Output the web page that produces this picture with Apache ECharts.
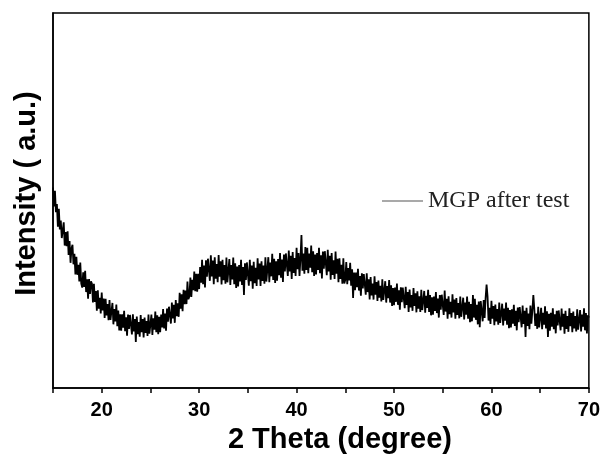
<!DOCTYPE html>
<html>
<head>
<meta charset="utf-8">
<script src="https://cdn.jsdelivr.net/npm/echarts@6/dist/echarts.min.js"></script>
<style>html,body{margin:0;padding:0;background:#fff}#c{width:603px;height:459px}</style>
</head>
<body>
<div id="c"></div>
<script>
// 2θ grid of the scan (degrees)
const angleStart = 15.0;
const angleStep = 0.1;
const seriesName = 'MGP after test';
const xTickValues = [20, 30, 40, 50, 60, 70];
// Intensity (arbitrary units, 0-100 of the frame height), one row per degree
const intensity = [
  53.5, 48.4, 52.6, 46.9, 49.1, 43.0, 47.8, 42.3, 44.7, 40.0,
  40.2, 44.2, 38.0, 41.6, 37.8, 41.8, 35.5, 39.2, 33.4, 37.2,
  38.2, 33.0, 35.8, 30.3, 35.0, 30.2, 32.9, 28.4, 33.5, 27.9,
  26.8, 30.9, 27.0, 31.3, 25.6, 29.0, 23.8, 29.1, 25.1, 28.5,
  27.8, 22.8, 27.8, 23.0, 25.9, 20.6, 26.1, 21.2, 24.1, 19.9,
  25.5, 20.7, 23.9, 18.7, 23.8, 19.4, 22.4, 18.1, 23.5, 18.2,
  18.2, 22.7, 17.0, 21.1, 17.8, 22.3, 16.5, 20.7, 15.4, 19.7,
  15.3, 19.7, 16.1, 20.6, 15.2, 18.9, 14.0, 19.6, 15.8, 19.5,
  19.1, 14.3, 19.7, 15.1, 18.4, 12.3, 19.1, 14.4, 17.6, 13.7,
  19.5, 14.9, 18.4, 13.5, 18.8, 14.7, 17.9, 13.9, 19.6, 14.5,
  14.8, 19.6, 14.2, 18.6, 15.6, 20.4, 14.9, 19.4, 14.4, 19.0,
  14.9, 19.6, 16.2, 21.1, 15.9, 19.9, 15.3, 21.2, 17.7, 21.7,
  21.6, 17.2, 22.8, 18.6, 22.2, 17.4, 23.5, 19.2, 22.6, 19.0,
  25.4, 21.2, 25.0, 20.5, 26.2, 22.4, 26.0, 22.4, 28.4, 23.7,
  24.5, 29.5, 24.3, 28.9, 26.1, 31.1, 25.8, 30.5, 25.7, 30.5,
  26.4, 32.3, 28.1, 34.2, 27.7, 32.7, 26.8, 34.1, 29.7, 34.5,
  34.4, 28.6, 35.4, 29.8, 34.0, 27.7, 34.9, 29.2, 33.1, 28.2,
  35.5, 29.7, 33.8, 27.6, 34.2, 28.8, 32.8, 27.8, 34.8, 28.2,
  28.5, 34.4, 27.5, 32.8, 29.0, 34.8, 27.7, 33.3, 26.7, 32.4,
  27.1, 32.8, 28.4, 34.2, 27.5, 32.3, 24.8, 33.3, 28.8, 33.5,
  33.2, 27.3, 34.2, 28.5, 32.7, 26.5, 33.7, 28.0, 32.1, 27.2,
  34.6, 29.0, 33.2, 27.2, 33.8, 28.6, 32.7, 27.8, 34.9, 28.4,
  28.9, 34.9, 28.2, 33.5, 29.8, 35.8, 28.8, 34.5, 28.0, 33.8,
  28.6, 34.4, 30.1, 36.0, 29.4, 34.3, 28.3, 35.6, 31.1, 35.9,
  35.7, 29.9, 36.7, 31.1, 35.3, 29.1, 36.3, 30.7, 34.7, 29.9,
  37.4, 31.7, 36.0, 29.9, 34.6, 40.8, 31.3, 35.9, 30.5, 37.6,
  31.5, 37.4, 30.6, 35.9, 32.1, 38.0, 30.9, 36.5, 29.9, 35.6,
  30.3, 36.0, 31.5, 37.4, 30.6, 35.4, 29.2, 36.4, 31.8, 36.5,
  36.1, 30.1, 36.9, 31.1, 35.3, 28.9, 36.0, 30.2, 34.1, 29.1,
  36.4, 30.5, 34.5, 28.2, 34.6, 29.1, 32.9, 27.8, 34.6, 27.9,
  28.9, 33.6, 27.7, 32.0, 28.7, 33.4, 27.3, 31.7, 24.0, 30.8,
  26.1, 30.8, 26.9, 31.8, 26.0, 29.9, 24.6, 30.6, 26.6, 30.4,
  30.0, 24.9, 30.6, 25.6, 29.0, 23.6, 29.6, 24.7, 27.9, 23.6,
  29.8, 24.9, 28.3, 23.2, 28.7, 24.1, 27.3, 23.1, 29.0, 23.5,
  23.7, 28.5, 22.8, 27.2, 24.0, 28.8, 22.8, 27.4, 21.9, 26.7,
  22.1, 26.8, 23.0, 27.9, 22.2, 26.1, 20.9, 26.9, 22.9, 26.8,
  26.3, 21.3, 27.0, 22.2, 25.6, 20.3, 26.3, 21.5, 24.8, 20.6,
  26.7, 21.9, 25.3, 20.2, 25.8, 21.2, 24.5, 20.3, 26.2, 20.8,
  21.0, 25.9, 20.1, 24.6, 21.4, 26.2, 20.3, 24.8, 19.4, 24.2,
  19.6, 24.4, 20.6, 25.6, 20.0, 23.9, 18.8, 24.8, 20.9, 24.9,
  24.5, 19.5, 26.0, 20.4, 23.8, 18.5, 24.5, 19.7, 23.0, 18.8,
  25.0, 20.2, 23.6, 18.5, 24.0, 19.5, 22.7, 18.6, 24.4, 19.0,
  19.2, 24.1, 18.3, 22.8, 19.6, 24.4, 18.5, 23.0, 17.6, 22.4,
  17.8, 24.8, 18.8, 23.8, 18.2, 22.2, 17.0, 23.1, 16.2, 23.2,
  22.8, 17.8, 23.5, 18.7, 24.0, 27.6, 24.5, 18.0, 21.4, 17.1,
  23.3, 18.5, 21.9, 16.8, 22.3, 17.8, 21.1, 16.9, 22.8, 17.4,
  17.6, 22.5, 16.7, 21.2, 18.0, 22.8, 16.9, 21.4, 16.0, 20.8,
  16.2, 21.0, 17.2, 22.2, 16.6, 20.6, 15.4, 21.5, 17.6, 21.6,
  21.2, 16.2, 22.0, 17.1, 20.6, 13.6, 21.4, 16.6, 19.9, 15.7,
  22.0, 17.2, 20.7, 24.8, 21.1, 16.6, 19.9, 15.8, 21.7, 16.2,
  16.5, 21.4, 15.7, 20.1, 16.9, 21.8, 15.9, 20.5, 13.6, 19.8,
  15.3, 20.1, 16.4, 21.3, 15.7, 19.7, 14.6, 20.6, 16.7, 20.7,
  20.4, 15.4, 21.2, 16.4, 19.8, 14.5, 20.6, 15.8, 19.2, 15.0,
  21.3, 16.5, 20.0, 14.9, 20.4, 15.9, 19.2, 15.1, 21.0, 15.6,
  15.9, 20.8, 15.1, 19.6, 16.4, 21.3, 15.4, 20.0, 14.6, 19.4,
  18.8
];

const points = intensity.map((v, i) => [+(angleStart + i * angleStep).toFixed(1), v]);

const chart = echarts.init(document.getElementById('c'), null, { renderer: 'canvas' });
chart.setOption({
  animation: false,
  backgroundColor: '#fff',
  grid: { left: 53, right: 14, top: 13, bottom: 68, show: true, borderColor: '#000', borderWidth: 1.5, backgroundColor: 'transparent' },
  legend: {
    data: [{ name: seriesName, icon: 'rect' }],
    left: 377, top: 184,
    itemWidth: 41, itemHeight: 1.2, itemGap: 0,
    itemStyle: { color: '#555', borderWidth: 0 },
    textStyle: { fontFamily: 'Liberation Serif', fontSize: 24, color: '#222' },
    selectedMode: false
  },
  xAxis: {
    type: 'value', min: 15, max: 70, interval: 5,
    name: '2 Theta (degree)', nameLocation: 'middle', nameGap: 33,
    nameTextStyle: { fontFamily: 'Liberation Sans', fontWeight: 'bold', fontSize: 29, color: '#000', padding: [0, 0, 0, 38] },
    axisLine: { show: true, lineStyle: { color: '#000', width: 1.5 } },
    axisTick: { show: true, inside: false, length: 5, lineStyle: { color: '#000', width: 1.5 } },
    axisLabel: {
      margin: 12, fontFamily: 'Liberation Sans', fontWeight: 'bold', fontSize: 20, color: '#000',
      formatter: v => xTickValues.includes(v) ? String(v) : ''
    },
    splitLine: { show: false }
  },
  yAxis: {
    type: 'value', min: 0, max: 100,
    name: 'Intensity ( a.u.)', nameLocation: 'middle', nameGap: 12, nameRotate: 90,
    nameTextStyle: { fontFamily: 'Liberation Sans', fontWeight: 'bold', fontSize: 29, color: '#000', padding: [0, 0, 0, 14] },
    axisLine: { show: true, lineStyle: { color: '#000', width: 1.5 } },
    axisTick: { show: false },
    axisLabel: { show: false },
    splitLine: { show: false }
  },
  series: [{
    name: seriesName,
    type: 'line',
    data: points,
    showSymbol: false,
    symbol: 'none',
    sampling: null,
    lineStyle: { color: '#000', width: 1.8 },
    itemStyle: { color: '#000' },
    silent: true
  }]
});
</script>
</body>
</html>
